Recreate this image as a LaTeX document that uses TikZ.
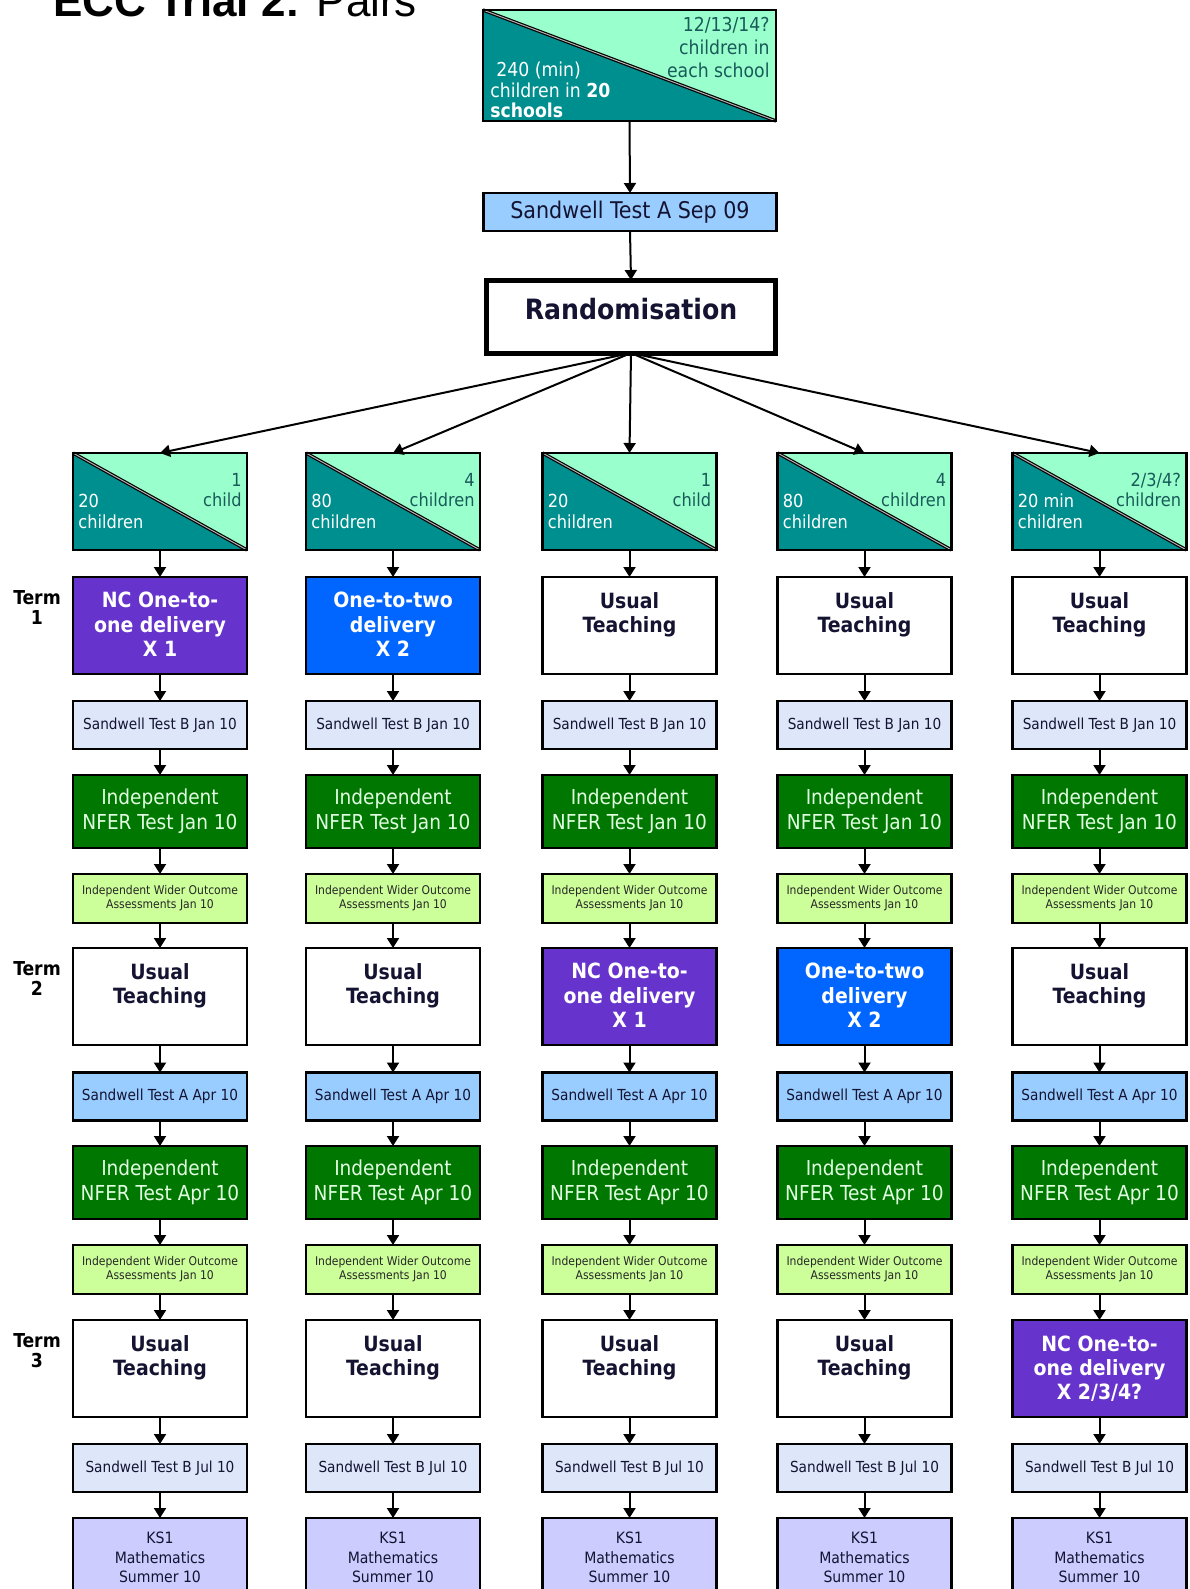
\documentclass[tikz,border=0pt]{standalone}
\usepackage{fontspec}
\setmainfont{DejaVu Sans Condensed}
\newfontfamily\titlefont{Liberation Sans}
\usetikzlibrary{arrows.meta}
\definecolor{dteal}{RGB}{0,143,143}
\definecolor{aqua}{RGB}{153,255,204}
\definecolor{ipurple}{RGB}{102,51,204}
\definecolor{iblue}{RGB}{0,102,255}
\definecolor{sbluA}{RGB}{153,204,255}
\definecolor{sbluB}{RGB}{221,231,249}
\definecolor{ngreen}{RGB}{0,119,0}
\definecolor{ntext}{RGB}{225,255,225}
\definecolor{wgreen}{RGB}{204,255,153}
\definecolor{kslav}{RGB}{204,204,255}
\definecolor{dtext}{RGB}{20,20,50}
\definecolor{tealtext}{RGB}{25,90,90}
\newcommand{\ncone}{NC One-to-\\one delivery\\X 1}
\newcommand{\onetwo}{One-to-two\\delivery\\X 2}
\newcommand{\usualt}{Usual\\Teaching}
\newcommand{\ncmulti}{NC One-to-\\one delivery\\X 2/3/4?}
\tikzset{
 bx/.style={draw=black, line width=1.4pt, outer sep=0pt, inner sep=0pt, minimum width=87pt},
 termbox/.style={bx, minimum height=48.5pt},
 termtxt/.style={inner sep=0pt, align=center, anchor=north, font=\bfseries\fontsize{10.5}{12.2}\selectfont},
 sandA/.style={bx, minimum height=24pt, fill=sbluA, text=dtext, font=\fontsize{7.6}{9}\selectfont},
 sandB/.style={bx, minimum height=24pt, fill=sbluB, text=dtext, font=\fontsize{7.6}{9}\selectfont},
 nfer/.style={bx, minimum height=36.5pt, fill=ngreen, text=ntext, align=center, font=\fontsize{10.3}{12.5}\selectfont},
 wider/.style={bx, minimum height=24.5pt, fill=wgreen, text=black!85, align=center, font=\fontsize{6}{7}\selectfont},
 ksbox/.style={bx, minimum height=50pt, fill=kslav},
 kstxt/.style={inner sep=0pt, align=center, anchor=north, text=dtext, font=\fontsize{7.8}{9.75}\selectfont},
 arr/.style={-{Triangle[width=6pt,length=5pt]}, line width=1pt},
 termlbl/.style={inner sep=0pt, align=center, anchor=north, font=\bfseries\fontsize{9.6}{10}\selectfont},
 grp/.style={bx, minimum height=48.5pt, fill=aqua},
 diag/.style={double=gray!60, double distance=0.5pt, line width=0.6pt},
 grpR/.style={inner sep=0pt, align=right, anchor=south east, text depth=0pt, text=tealtext, font=\fontsize{9}{10}\selectfont},
 grpL/.style={inner sep=0pt, align=left, anchor=south west, text depth=0pt, text=white, font=\fontsize{9}{10.5}\selectfont},
}
\begin{document}
\begin{tikzpicture}[x=0.5pt,y=-0.5pt]
\clip (0,0) rectangle (1189,1589);
\fill[white] (0,0) rectangle (1189,1589);
\node[anchor=base west, inner sep=0pt, font=\titlefont\fontsize{22}{26}\selectfont] (title) at (53,17) {\textbf{ECC Trial 2:} Pairs};

% top box
\node[bx, minimum width=146.5pt, minimum height=55.5pt, fill=aqua] (top) at (629.5,65.5) {};
\fill[dteal] (top.north west) -- (top.south east) -- (top.south west) -- cycle;
\draw[diag] (top.north west) -- (top.south east);
\draw[line width=1.4pt] (top.north west) rectangle (top.south east);
\node[grpR, font=\fontsize{9.6}{11.5}\selectfont] (topR) at (770,78) {12/13/14?\\children in\\each school};
\node[grpL, font=\fontsize{9.6}{10.25}\selectfont] (topL) at (490,118) {\hspace{3pt}240 (min)\\children in \textbf{20}\\\textbf{schools}};

\node[sandA, minimum width=146.5pt, minimum height=19pt, font=\fontsize{11.5}{13}\selectfont] (sep) at (630,212) {Sandwell Test A Sep 09};
\node[bx, minimum width=144.5pt, minimum height=36.5pt, line width=2.5pt] (rand) at (631,316.5) {};
\node[font=\bfseries\fontsize{14}{16}\selectfont, inner sep=0pt, text=dtext] (randt) at (631,309) {Randomisation};
\draw[arr] (top.south) -- (sep.north);
\draw[arr] (sep.south) -- (rand.north);

% group boxes
\foreach \i/\cx in {1/160,2/393,3/629.5,4/864.5,5/1099.5}{
 \node[grp] (g\i) at (\cx,501.5) {};
 \fill[dteal] (g\i.north west) -- (g\i.south east) -- (g\i.south west) -- cycle;
 \draw[diag] (g\i.north west) -- (g\i.south east);
 \draw[line width=1.4pt] (g\i.north west) rectangle (g\i.south east);
 \draw[arr] (rand.south) -- (g\i.north);
}
\node[grpR] (g1r) at (242,507) {1\\child};
\node[grpL] (g1l) at (78,529) {20\\children};
\node[grpR] (g2r) at (475,507) {4\\children};
\node[grpL] (g2l) at (311,529) {80\\children};
\node[grpR] (g3r) at (711.5,507) {1\\child};
\node[grpL] (g3l) at (547.5,529) {20\\children};
\node[grpR] (g4r) at (946.5,507) {4\\children};
\node[grpL] (g4l) at (782.5,529) {80\\children};
\node[grpR] (g5r) at (1181.5,507) {2/3/4?\\children};
\node[grpL] (g5l) at (1017.5,529) {20 min\\children};

% term labels
\node[termlbl] (term1) at (37,590) {Term\\1};
\node[termlbl] (term2) at (37,961) {Term\\2};
\node[termlbl] (term3) at (37,1333) {Term\\3};

% columns
\foreach \i/\cx/\fa/\ca/\xa/\fb/\cb/\xb/\fc/\cc/\xc in {
 1/160/ipurple/white/\ncone/white/dtext/\usualt/white/dtext/\usualt,
 2/393/iblue/white/\onetwo/white/dtext/\usualt/white/dtext/\usualt,
 3/629.5/white/dtext/\usualt/ipurple/white/\ncone/white/dtext/\usualt,
 4/864.5/white/dtext/\usualt/iblue/white/\onetwo/white/dtext/\usualt,
 5/1099.5/white/dtext/\usualt/white/dtext/\usualt/ipurple/white/\ncmulti}{
 \node[termbox, fill=\fa] (ta\i) at (\cx,625.5) {};
 \node[termtxt, text=\ca] (taT\i) at (\cx,592) {\xa};
 \node[sandB] (sbj\i) at (\cx,725) {Sandwell Test B Jan 10};
 \node[nfer] (nj\i) at (\cx,811.5) {Independent\\NFER Test Jan 10};
 \node[wider] (wj\i) at (\cx,898.5) {Independent Wider Outcome\\Assessments Jan 10};
 \node[termbox, fill=\fb] (tb\i) at (\cx,996.5) {};
 \node[termtxt, text=\cb] (tbT\i) at (\cx,963) {\xb};
 \node[sandA] (saa\i) at (\cx,1096.5) {Sandwell Test A Apr 10};
 \node[nfer] (na\i) at (\cx,1182.5) {Independent\\NFER Test Apr 10};
 \node[wider] (wa\i) at (\cx,1269.5) {Independent Wider Outcome\\Assessments Jan 10};
 \node[termbox, fill=\fc] (tc\i) at (\cx,1368.5) {};
 \node[termtxt, text=\cc] (tcT\i) at (\cx,1335) {\xc};
 \node[sandB] (sbl\i) at (\cx,1468) {Sandwell Test B Jul 10};
 \node[ksbox] (ks\i) at (\cx,1568) {};
 \node[kstxt] (ksT\i) at (\cx,1532) {KS1\\Mathematics\\Summer 10};
 \draw[arr] (g\i.south) -- (ta\i.north);
 \draw[arr] (ta\i.south) -- (sbj\i.north);
 \draw[arr] (sbj\i.south) -- (nj\i.north);
 \draw[arr] (nj\i.south) -- (wj\i.north);
 \draw[arr] (wj\i.south) -- (tb\i.north);
 \draw[arr] (tb\i.south) -- (saa\i.north);
 \draw[arr] (saa\i.south) -- (na\i.north);
 \draw[arr] (na\i.south) -- (wa\i.north);
 \draw[arr] (wa\i.south) -- (tc\i.north);
 \draw[arr] (tc\i.south) -- (sbl\i.north);
 \draw[arr] (sbl\i.south) -- (ks\i.north);
}
\end{tikzpicture}
\end{document}
